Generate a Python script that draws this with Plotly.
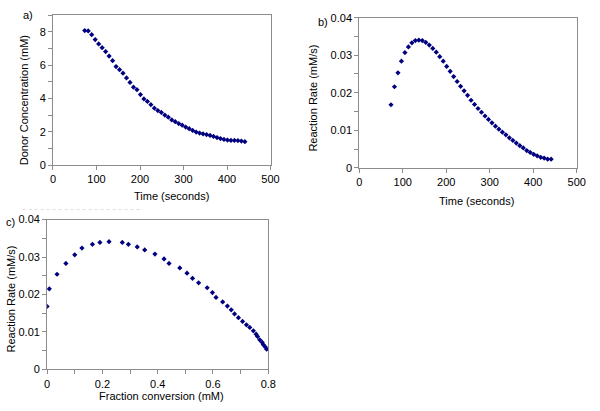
import plotly.graph_objects as go

# ---- data ----
time_s = [73, 81, 89, 97, 105, 113, 121, 129, 137, 145, 153, 161, 169, 177, 185, 193,
          201, 209, 217, 225, 233, 241, 249, 257, 265, 273, 281, 289, 297, 305, 313, 321,
          329, 337, 345, 353, 361, 369, 377, 385, 393, 401, 409, 417, 425, 433, 441]
donor_mM = [8.08, 8.06, 7.83, 7.54, 7.28, 7.05, 6.82, 6.55, 6.27, 5.92, 5.73, 5.52,
            5.24, 4.97, 4.68, 4.53, 4.24, 3.98, 3.83, 3.63, 3.42, 3.28, 3.17, 3.01,
            2.88, 2.72, 2.61, 2.50, 2.40, 2.29, 2.19, 2.09, 1.99, 1.93, 1.88, 1.84,
            1.79, 1.73, 1.66, 1.60, 1.55, 1.51, 1.49, 1.49, 1.48, 1.45, 1.41]
rate_mMs = [0.0168, 0.0216, 0.0253, 0.0284, 0.0307, 0.0322, 0.0333, 0.0339, 0.0340,
            0.0339, 0.0334, 0.0327, 0.0318, 0.0308, 0.0296, 0.0284, 0.0270, 0.0257,
            0.0243, 0.0230, 0.0217, 0.0205, 0.0193, 0.0180, 0.0169, 0.0158, 0.0148,
            0.0138, 0.0129, 0.0120, 0.0111, 0.0103, 0.0095, 0.0088, 0.0080, 0.0073,
            0.0066, 0.0059, 0.0053, 0.0046, 0.0041, 0.0036, 0.0032, 0.0028, 0.0026,
            0.0023, 0.0023]
conversion = [0.0, 0.008, 0.036, 0.068, 0.100, 0.126, 0.164, 0.191, 0.224, 0.272,
              0.294, 0.326, 0.353, 0.390, 0.423, 0.441, 0.480, 0.506, 0.526, 0.548,
              0.579, 0.598, 0.611, 0.635, 0.652, 0.666, 0.678, 0.692, 0.707, 0.721,
              0.733, 0.746, 0.756, 0.761, 0.769, 0.778, 0.782, 0.789, 0.794]
rate_c_mMs = [0.0168, 0.0215, 0.0254, 0.0283, 0.0306, 0.0324, 0.0334, 0.0339, 0.0341,
              0.0339, 0.0334, 0.0327, 0.0319, 0.0308, 0.0295, 0.0283, 0.0271, 0.0257,
              0.0243, 0.0231, 0.0218, 0.0205, 0.0192, 0.0180, 0.0169, 0.0159, 0.0148,
              0.0138, 0.0128, 0.0119, 0.0112, 0.0103, 0.0094, 0.0088, 0.0079, 0.0072,
              0.0066, 0.0060, 0.0054]

W, H = 600, 411
FONT = "Liberation Sans, Arial, sans-serif"
AX = "#8c8c8c"
MK = dict(symbol="diamond", size=4, color="#000080")

def px(x):
    return x / W

def py(y):
    return 1 - y / H

fig = go.Figure()
fig.add_trace(go.Scatter(x=time_s, y=donor_mM, mode="markers", marker=MK,
                         xaxis="x", yaxis="y", showlegend=False))
fig.add_trace(go.Scatter(x=time_s, y=rate_mMs, mode="markers", marker=MK,
                         xaxis="x2", yaxis="y2", showlegend=False))
fig.add_trace(go.Scatter(x=conversion, y=rate_c_mMs, mode="markers", marker=MK,
                         xaxis="x3", yaxis="y3", showlegend=False))

def axis(dom, rng, dtick, minor=None, anchor=None):
    d = dict(domain=dom, range=rng, dtick=dtick, tick0=0, showgrid=False,
             zeroline=False, showline=True, mirror=True, linecolor=AX, linewidth=1,
             ticks="outside", ticklen=4, tickcolor=AX,
             tickfont=dict(family=FONT, size=11, color="black"), anchor=anchor,
             fixedrange=True)
    if minor is not None:
        d["minor"] = dict(dtick=minor, tick0=0, ticks="outside", ticklen=4,
                          tickcolor=AX, showgrid=False)
    return d

fig.update_layout(
    width=W, height=H, margin=dict(l=0, r=0, t=0, b=0),
    paper_bgcolor="white", plot_bgcolor="white",
    xaxis=axis([px(51), px(273)], [0, 500], 100, anchor="y"),
    yaxis=axis([py(164), py(9.5)], [0, 9], 2, minor=1, anchor="x"),
    xaxis2=axis([px(363.5), px(585.5)], [0, 500], 100, anchor="y2"),
    yaxis2=axis([py(166.7), py(12)], [0, 0.04], 0.01, minor=0.005, anchor="x2"),
    xaxis3=axis([px(45), px(270.7)], [0, 0.8], 0.2, minor=0.1, anchor="y3"),
    yaxis3=axis([py(374.3), py(220)], [0, 0.04], 0.01, minor=0.005, anchor="x3"),
)

def label(text, x, y, angle=0):
    fig.add_annotation(text=text, x=px(x), y=py(y), xref="paper", yref="paper",
                       showarrow=False, textangle=angle, xanchor="center",
                       yanchor="middle", font=dict(family=FONT, size=11, color="black"))

label("a)", 25.5, 9.5)
label("b)", 326.5, 16)
label("c)", 8, 222.5)
label("Donor Concentration (mM)", 21, 97.5, -90)
label("Time (seconds)", 171.6, 196)
label("Reaction Rate (mM/s)", 316.7, 95, -90)
label("Time (seconds)", 483, 201)
label("Reaction Rate (mM/s)", 8.5, 302, -90)
label("Fraction conversion (mM)", 162, 402)

fig.add_shape(type="line", xref="paper", yref="paper", x0=px(20), x1=px(143),
              y0=py(209.7), y1=py(209.7), line=dict(color="#dcdcdc", width=1, dash="dot"))

fig.write_html("out.html", config={"displayModeBar": False, "staticPlot": True},
               post_script="document.body.style.margin='0';document.body.style.overflow='hidden';")
